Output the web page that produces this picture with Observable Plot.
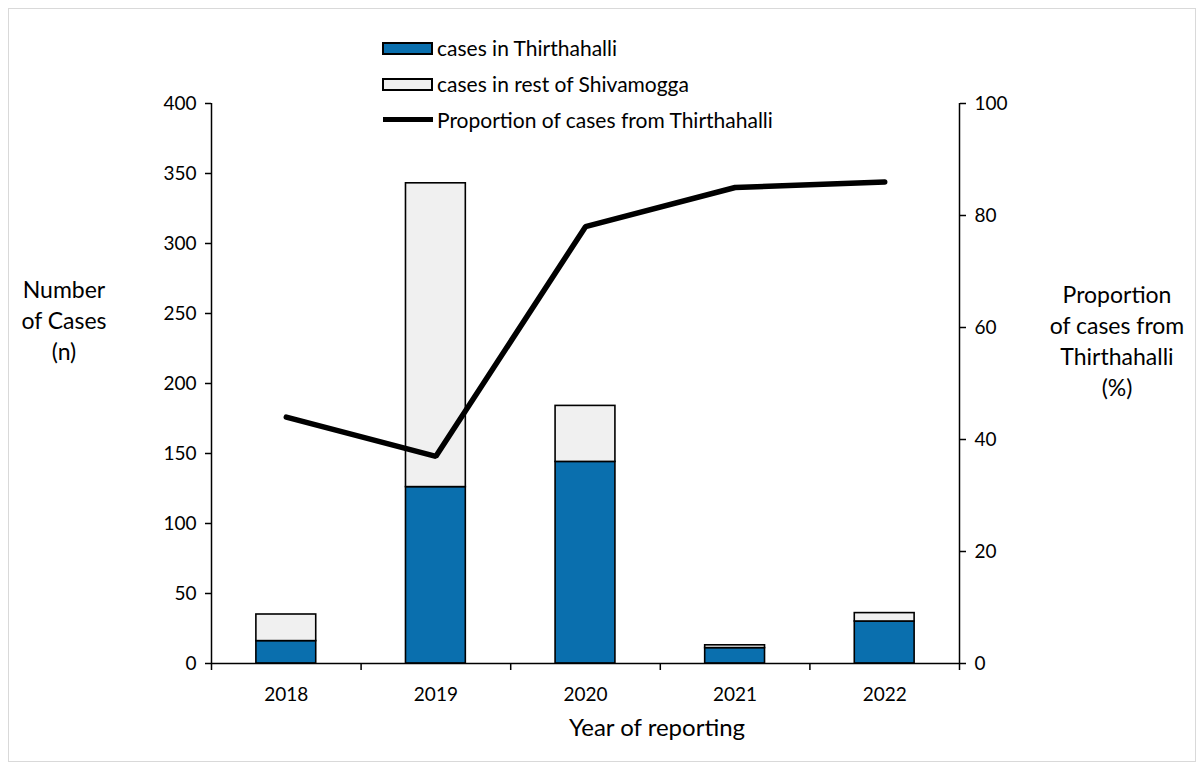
<!DOCTYPE html>
<html>
<head>
<meta charset="utf-8">
<script src="https://cdn.jsdelivr.net/npm/d3@7"></script>
<script src="https://cdn.jsdelivr.net/npm/@observablehq/plot@0.6"></script>
<style>
  html, body { margin: 0; padding: 0; background: #fff; }
  #wrap { position: relative; width: 1204px; height: 771px; font-family: Lato, "Open Sans", sans-serif; color: #000; }
  #frame { position: absolute; left: 8px; top: 8px; width: 1186px; height: 752px; border: 1px solid #d9d9d9; pointer-events: none; }
  .lbl { position: absolute; white-space: nowrap; }
  .sw { position: absolute; box-sizing: border-box; border: 2px solid #000; }
  .title { position: absolute; text-align: center; font-size: 23px; line-height: 31px; }
</style>
</head>
<body>
<div id="wrap">
  <div id="frame"></div>
  <div id="chart"></div>
</div>
<script>
// ---- data ----
const years = [2018, 2019, 2020, 2021, 2022];
const casesThirthahalli = [16, 126, 144, 11, 30];
const casesRestShivamogga = [19, 217, 40, 2, 6];
const proportionThirthahalli = [44, 37, 78, 85, 86];
const leftTicks = [0, 50, 100, 150, 200, 250, 300, 350, 400];
const rightTicks = [0, 20, 40, 60, 80, 100];
const seriesNames = ["cases in Thirthahalli", "cases in rest of Shivamogga", "Proportion of cases from Thirthahalli"];
const colors = { thir: "#0a6fae", rest: "#f0f0f0" };

const rows = years.map((y, i) => ({
  year: y,
  thir: casesThirthahalli[i],
  total: casesThirthahalli[i] + casesRestShivamogga[i],
  prop: proportionThirthahalli[i]
}));
const ratio = 400 / 100; // right axis (0-100%) mapped on left axis (0-400)
const halfBar = 0.2;
const bounds = [2017.5, 2018.5, 2019.5, 2020.5, 2021.5, 2022.5];

const chart = Plot.plot({
  width: 1204,
  height: 771,
  marginLeft: 211,
  marginRight: 245,
  marginTop: 103,
  marginBottom: 108,
  style: { fontFamily: "Lato, 'Open Sans', sans-serif", fontSize: "19px", color: "#000", background: "transparent" },
  x: { type: "linear", domain: [2017.5, 2022.5] },
  y: { domain: [0, 400] },
  marks: [
    Plot.rect(rows, { x1: d => d.year - halfBar, x2: d => d.year + halfBar, y1: 0, y2: "thir", fill: colors.thir, stroke: "#000", strokeWidth: 1.6 }),
    Plot.rect(rows, { x1: d => d.year - halfBar, x2: d => d.year + halfBar, y1: "thir", y2: "total", fill: colors.rest, stroke: "#000", strokeWidth: 1.6 }),
    Plot.ruleX([2017.5], { y1: 0, y2: 400, stroke: "#000", strokeWidth: 1.5 }),
    Plot.ruleX([2022.5], { y1: 0, y2: 400, stroke: "#000", strokeWidth: 1.5 }),
    Plot.ruleY([0], { x1: 2017.5, x2: 2022.5, stroke: "#000", strokeWidth: 1.5 }),
    Plot.axisY({ anchor: "left", ticks: leftTicks, tickSize: 6, tickPadding: 9, label: null, strokeWidth: 1.5 }),
    Plot.axisY({ anchor: "right", ticks: rightTicks.map(v => v * ratio), tickFormat: d => String(d / ratio), tickSize: 6, tickPadding: 9, label: null, strokeWidth: 1.5 }),
    Plot.axisX({ ticks: bounds, tickSize: 7, tickFormat: () => "", label: null, strokeWidth: 1.5 }),
    Plot.axisX({ ticks: years, tickSize: 0, tickPadding: 24, tickFormat: d => String(d), label: null }),
    Plot.line(rows, { x: "year", y: d => d.prop * ratio, stroke: "#000", strokeWidth: 5.5, strokeLinejoin: "miter" })
  ]
});
document.getElementById("chart").appendChild(chart);

// ---- titles and legend (HTML) ----
const wrap = document.getElementById("wrap");
function add(html, cls, style) {
  const el = document.createElement("div");
  el.className = cls;
  el.innerHTML = html;
  Object.assign(el.style, style);
  wrap.appendChild(el);
  return el;
}
add("Number<br>of Cases<br>(n)", "title", { left: "0px", top: "274px", width: "128px" });
add("Proportion<br>of cases from<br>Thirthahalli<br>(%)", "title", { left: "1036px", top: "279px", width: "162px" });
add("Year of reporting", "title", { left: "507px", top: "711px", width: "300px", fontSize: "24px" });

// legend
add("", "sw", { left: "382px", top: "42px", width: "51px", height: "13px", background: colors.thir });
add("", "sw", { left: "382px", top: "78px", width: "51px", height: "13px", background: colors.rest });
add("", "sw", { left: "383px", top: "117px", width: "50px", height: "5px", background: "#000", border: "none" });
const lblStyle = { fontSize: "21px", lineHeight: "24px" };
add(seriesNames[0], "lbl", Object.assign({ left: "437px", top: "36px" }, lblStyle));
add(seriesNames[1], "lbl", Object.assign({ left: "437px", top: "72px" }, lblStyle));
add(seriesNames[2], "lbl", Object.assign({ left: "437px", top: "108px" }, lblStyle));
</script>
</body>
</html>
